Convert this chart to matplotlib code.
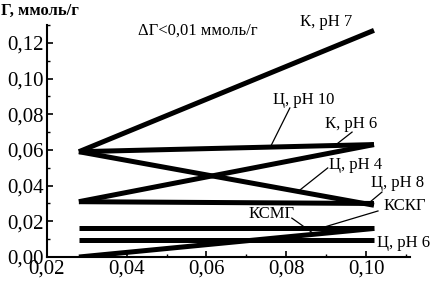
import matplotlib.pyplot as plt
from matplotlib.ticker import MultipleLocator, FuncFormatter

plt.rcParams['font.family'] = ['Liberation Serif', 'DejaVu Serif']

# concentration range of each line (start, end)
x_range = [0.028, 0.102]

names = ['К, pH 7', 'Ц, pH 10', 'Ц, pH 4', 'К, pH 6',
         'Ц, pH 8', 'КСМГ', 'Ц, pH 6', 'КСКГ']
g_start = [0.059, 0.059, 0.059, 0.031, 0.031, 0.0165, 0.0095, 0.000]
g_end = [0.127, 0.063, 0.029, 0.063, 0.030, 0.0165, 0.0095, 0.016]

# label centres
label_pos = [(0.0899, 0.1317), (0.0844, 0.0880), (0.0975, 0.0515),
             (0.0962, 0.0745), (0.1080, 0.0415), (0.0762, 0.0241),
             (0.1095, 0.0078), (0.1097, 0.0286)]
# leader lines: from the label to its line
ptr_label = [None, (0.0809, 0.0835), (0.0904, 0.0499), (0.0965, 0.0700),
             (0.1040, 0.0364), (0.0814, 0.0218), None, (0.1030, 0.0258)]
ptr_line = [None, (0.0759, 0.0611), (0.0834, 0.0375), (0.0917, 0.0616),
            (0.1010, 0.0308), (0.0867, 0.0134), None, (0.0879, 0.0157)]

fig = plt.figure(figsize=(4.31, 2.84), dpi=100)
ax = fig.add_axes([0.109, 0.095, 0.842, 0.817])

for i in range(len(names)):
    ax.plot(x_range, [g_start[i], g_end[i]], color='black', lw=3.6,
            solid_capstyle='butt')

for i, name in enumerate(names):
    ax.text(label_pos[i][0], label_pos[i][1], name, fontsize=12,
            ha='center', va='center')
    if ptr_label[i] is not None:
        ax.plot([ptr_label[i][0], ptr_line[i][0]],
                [ptr_label[i][1], ptr_line[i][1]],
                color='black', lw=0.9, clip_on=False)

ax.text(0.0428, 0.127, 'ΔГ<0,01 ммоль/г', fontsize=12, va='center')
fig.text(0.002, 0.99, 'Г, ммоль/г', fontsize=12, fontweight='bold',
         ha='left', va='top')

ax.set_xlim(0.02, 0.111)
ax.set_ylim(0, 0.13)
ax.spines['top'].set_visible(False)
ax.spines['right'].set_visible(False)
ax.spines['left'].set_linewidth(1.5)
ax.spines['bottom'].set_linewidth(1.5)
ax.xaxis.set_major_locator(MultipleLocator(0.02))
ax.xaxis.set_minor_locator(MultipleLocator(0.01))
ax.yaxis.set_major_locator(MultipleLocator(0.02))
ax.yaxis.set_minor_locator(MultipleLocator(0.01))
fmt = FuncFormatter(lambda v, p: f'{v:.2f}'.replace('.', ','))
ax.xaxis.set_major_formatter(fmt)
ax.yaxis.set_major_formatter(fmt)
ax.tick_params(which='both', direction='in', labelsize=15, pad=2)
ax.tick_params(which='major', length=4, width=1.2)
ax.tick_params(which='minor', length=2, width=1)

fig.savefig('out.png', dpi=100)
